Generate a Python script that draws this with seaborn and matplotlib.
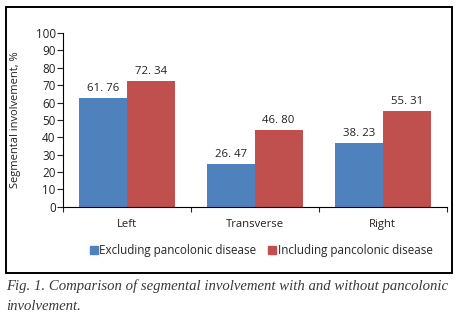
import matplotlib
matplotlib.use("Agg")
import matplotlib.pyplot as plt
import matplotlib.patches as mpatches
import seaborn as sns
import pandas as pd

segments = ["Left", "Transverse", "Right"]
groups = ["Excluding pancolonic disease", "Including pancolonic disease"]
excluding = [62.6, 24.6, 36.8]
including = [72.5, 44.2, 55.1]
excluding_labels = ["61. 76", "26. 47", "38. 23"]
including_labels = ["72. 34", "46. 80", "55. 31"]
yticks = [0, 10, 20, 30, 40, 50, 60, 70, 80, 90, 100]
colors = ["#4F81BD", "#C0504D"]
caption = "Fig. 1. Comparison of segmental involvement with and without pancolonic\ninvolvement."

df = pd.DataFrame({
    "segment": segments * 2,
    "value": excluding + including,
    "group": [groups[0]] * 3 + [groups[1]] * 3,
})

sns.set_style("white")
plt.rcParams["font.family"] = ["Open Sans", "DejaVu Sans"]

fig = plt.figure(figsize=(4.65, 3.24), dpi=100)
ax = fig.add_axes([0.1348, 0.362, 0.8258, 0.536])

sns.barplot(data=df, x="segment", y="value", hue="group", palette=colors,
            width=0.75, saturation=1, ax=ax, legend=False, linewidth=0)

for cont, labs in zip(ax.containers, [excluding_labels, including_labels]):
    ax.bar_label(cont, labels=labs, padding=3, fontsize=8.2, color="#222222")

ax.set_ylim(0, 100)
ax.set_xlim(-0.5, 2.5)
ax.set_yticks(yticks)
ax.tick_params(axis="y", labelsize=8.4, length=4, width=0.8, direction="out", left=True, pad=1, colors="#222222")
ax.tick_params(axis="x", which="major", length=0, labelsize=8.1, pad=9, colors="#222222")
ax.set_xticks([-0.5, 0.5, 1.5, 2.5], minor=True)
ax.tick_params(axis="x", which="minor", length=3.5, width=0.8, direction="out", bottom=True)
for s in ["top", "right"]:
    ax.spines[s].set_visible(False)
for s in ["left", "bottom"]:
    ax.spines[s].set_color("black")
    ax.spines[s].set_linewidth(0.8)
ax.set_xlabel("")
ax.set_ylabel("Segmental involvement, %", fontsize=8.0, color="#222222")
ax.yaxis.set_label_coords(-0.108, 0.5)

handles = [mpatches.Patch(color=c, label=g) for c, g in zip(colors, groups)]
fig.legend(handles=handles, loc="center", bbox_to_anchor=(0.562, 0.226), ncol=2,
           frameon=False, fontsize=8.4, handlelength=0.7, handleheight=0.7,
           handletextpad=0.15, columnspacing=1.0)

rect = mpatches.Rectangle((0.0123, 0.1565), 0.96, 0.821, transform=fig.transFigure,
                          fill=False, edgecolor="black", linewidth=1.4)
fig.patches.append(rect)

fig.text(0.013, 0.137, caption, ha="left", va="top", fontsize=10.65,
         family="Liberation Serif", style="italic", color="#3a3a3a", linespacing=1.7)

fig.savefig("out.png", dpi=100)
